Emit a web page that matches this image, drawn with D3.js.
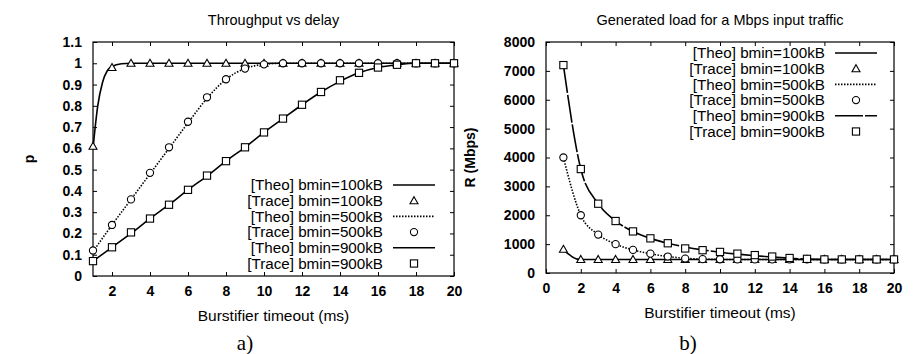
<!DOCTYPE html>
<html>
<head>
<meta charset="utf-8">
<script src="https://d3js.org/d3.v7.min.js"></script>
<style>
  body { margin: 0; background: white; }
  svg text { font-family: "Liberation Sans", Arial, sans-serif; fill: black; }
  .tick text { font-weight: bold; font-size: 14px; }
  .tick line { stroke: black; }
  .domain { display: none; }
  .frame { fill: none; stroke: black; stroke-width: 1.2px; }
  .theo { fill: none; stroke: black; stroke-width: 1.6px; }
  .mark { fill: white; stroke: black; stroke-width: 1.1px; }
</style>
</head>
<body>
<svg id="chart" width="922" height="354"></svg>
<script>
// ---- panel a) Throughput vs delay ----
const xsA = d3.range(1, 21);
const trace100A = [0.61, 0.98, 1, 1, 1, 1, 1, 1, 1, 1, 1, 1, 1, 1, 1, 1, 1, 1, 1, 1];
const trace500A = [0.12, 0.24, 0.36, 0.485, 0.605, 0.725, 0.84, 0.925, 0.975, 0.995, 1, 1, 1, 1, 1, 1, 1, 1, 1, 1];
const trace900A = [0.07, 0.135, 0.205, 0.27, 0.335, 0.405, 0.472, 0.54, 0.605, 0.675, 0.74, 0.805, 0.865, 0.92, 0.955, 0.98, 0.993, 1, 1, 1];
const theo100Ax = [1, 1.25, 1.5, 1.75, 2, 2.5, 3, 20];
const theo100A = [0.6, 0.8, 0.91, 0.965, 0.985, 0.998, 1, 1];
const theo500Ax = xsA;
const theo500A = [0.115, 0.24, 0.36, 0.48, 0.6, 0.72, 0.835, 0.925, 0.975, 0.995, 1, 1, 1, 1, 1, 1, 1, 1, 1, 1];
const theo900Ax = xsA;
const theo900A = [0.07, 0.135, 0.2, 0.27, 0.335, 0.405, 0.47, 0.54, 0.605, 0.675, 0.74, 0.805, 0.865, 0.915, 0.955, 0.98, 0.993, 1, 1, 1];
const yTicksA = d3.range(0, 12).map(d => d / 10);
const xTicksA = d3.range(2, 21, 2);

// ---- panel b) Generated load ----
const xsB = d3.range(1, 21);
const trace100B = [820, 470, 470, 470, 470, 470, 470, 470, 470, 470, 470, 470, 470, 470, 470, 470, 470, 470, 470, 470];
const trace500B = [4000, 2000, 1330, 1000, 800, 670, 570, 500, 480, 475, 470, 470, 470, 470, 470, 470, 470, 470, 470, 470];
const trace900B = [7200, 3600, 2400, 1800, 1440, 1200, 1030, 850, 790, 730, 670, 620, 570, 520, 490, 470, 470, 470, 470, 470];
const theo100Bx = [1, 1.2, 1.4, 1.6, 1.8, 2.2, 20];
const theo100B = [800, 700, 610, 530, 480, 465, 465];
const theo500Bx = xsB;
const theo500B = [4000, 2000, 1333, 1000, 800, 667, 571, 510, 480, 470, 468, 467, 466, 465, 465, 465, 465, 465, 465, 465];
const theo900Bx = xsB;
const theo900B = [7200, 3600, 2400, 1800, 1440, 1200, 1030, 900, 800, 720, 655, 600, 555, 515, 480, 470, 468, 466, 465, 465];
const yTicksB = d3.range(0, 8001, 1000);
const xTicksB = d3.range(0, 21, 2);

const legendLabels = ["[Theo] bmin=100kB", "[Trace] bmin=100kB", "[Theo] bmin=500kB",
                      "[Trace] bmin=500kB", "[Theo] bmin=900kB", "[Trace] bmin=900kB"];

const svg = d3.select("#chart");

function drawMarker(g, kind, x, y) {
    if (kind === "tri") {
        g.append("path").attr("class", "mark")
         .attr("d", `M${x},${y - 4}L${x + 4},${y + 3}L${x - 4},${y + 3}Z`);
    } else if (kind === "circ") {
        g.append("circle").attr("class", "mark").attr("cx", x).attr("cy", y).attr("r", 3.6);
    } else {
        g.append("rect").attr("class", "mark").attr("x", x - 3.6).attr("y", y - 3.6)
         .attr("width", 7.2).attr("height", 7.2);
    }
}

function panel(opt) {
    const x = d3.scaleLinear().domain(opt.xDomain).range([opt.left, opt.right]);
    const y = d3.scaleLinear().domain(opt.yDomain).range([opt.bottom, opt.top]);
    const g = svg.append("g");

    // axes with inward ticks, mirrored on top/right
    g.append("g").attr("transform", `translate(0,${opt.bottom})`)
     .call(d3.axisBottom(x).tickValues(opt.xTicks).tickSize(-4).tickPadding(10).tickFormat(d3.format("d")));
    g.append("g").attr("transform", `translate(0,${opt.top})`)
     .call(d3.axisTop(x).tickValues(opt.xTicks).tickSize(-4).tickFormat(""));
    g.append("g").attr("transform", `translate(${opt.left},0)`)
     .call(d3.axisLeft(y).tickValues(opt.yTicks).tickSize(-4).tickPadding(11).tickFormat(opt.yFormat));
    g.append("g").attr("transform", `translate(${opt.right},0)`)
     .call(d3.axisRight(y).tickValues(opt.yTicks).tickSize(-4).tickFormat(""));

    g.append("rect").attr("class", "frame")
     .attr("x", opt.left).attr("y", opt.top)
     .attr("width", opt.right - opt.left).attr("height", opt.bottom - opt.top);

    const line = d3.line().curve(d3.curveMonotoneX).x(d => x(d[0])).y(d => y(d[1]));
    opt.series.forEach(s => {
        if (s.theo) {
            g.append("path").attr("class", "theo")
             .attr("stroke-dasharray", s.dash)
             .attr("d", line(d3.zip(s.xs, s.ys)));
        } else {
            s.xs.forEach((xv, i) => drawMarker(g, s.mark, x(xv), y(s.ys[i])));
        }
    });

    // legend
    opt.series.forEach((s, i) => {
        const ly = opt.legY + i * 15.7;
        g.append("text").attr("x", opt.legX).attr("y", ly).attr("dy", "0.35em")
         .attr("text-anchor", "end").style("font-size", "15.2px").text(legendLabels[i]);
        if (s.theo) {
            g.append("line").attr("class", "theo").attr("stroke-dasharray", s.dash)
             .attr("x1", opt.legX + 10).attr("x2", opt.legX + 52).attr("y1", ly).attr("y2", ly);
        } else {
            drawMarker(g, s.mark, opt.legX + 31, ly);
        }
    });

    g.append("text").attr("x", (opt.left + opt.right) / 2).attr("y", 25)
     .attr("text-anchor", "middle").style("font-size", "14.5px").style("font-weight", "500").text(opt.title);
    g.append("text").attr("x", (opt.left + opt.right) / 2).attr("y", opt.bottom + 45)
     .attr("text-anchor", "middle").style("font-size", "15.5px").text("Burstifier timeout (ms)");
    g.append("text").attr("transform", `translate(${opt.yLabX},${(opt.top + opt.bottom) / 2}) rotate(-90)`)
     .attr("text-anchor", "middle").style("font-size", "14px").style("font-weight", "bold").text(opt.yLabel);
    g.append("text").attr("x", opt.subX).attr("y", 350)
     .attr("text-anchor", "middle").style("font-family", "'Liberation Serif', serif")
     .style("font-size", "21px").text(opt.sub);
}

panel({
    left: 93, right: 454, top: 42, bottom: 276,
    xDomain: [1, 20], yDomain: [0, 1.1],
    xTicks: xTicksA, yTicks: yTicksA, yFormat: d3.format("~g"),
    legX: 383, legY: 185,
    title: "Throughput vs delay", yLabel: "p", yLabX: 34, sub: "a)", subX: 245,
    series: [
        {theo: true, xs: theo100Ax, ys: theo100A, dash: null},
        {mark: "tri", xs: xsA, ys: trace100A},
        {theo: true, xs: theo500Ax, ys: theo500A, dash: "1.5,1.5"},
        {mark: "circ", xs: xsA, ys: trace500A},
        {theo: true, xs: theo900Ax, ys: theo900A, dash: null},
        {mark: "sq", xs: xsA, ys: trace900A}
    ]
});

panel({
    left: 546, right: 894, top: 42, bottom: 273,
    xDomain: [0, 20], yDomain: [0, 8000],
    xTicks: xTicksB, yTicks: yTicksB, yFormat: d3.format("d"),
    legX: 825, legY: 53,
    title: "Generated load for a Mbps input traffic", yLabel: "R (Mbps)", yLabX: 475, sub: "b)", subX: 688,
    series: [
        {theo: true, xs: theo100Bx, ys: theo100B, dash: null},
        {mark: "tri", xs: xsB, ys: trace100B},
        {theo: true, xs: theo500Bx, ys: theo500B, dash: "1.5,1.5"},
        {mark: "circ", xs: xsB, ys: trace500B},
        {theo: true, xs: theo900Bx, ys: theo900B, dash: "28,2"},
        {mark: "sq", xs: xsB, ys: trace900B}
    ]
});
</script>
</body>
</html>
